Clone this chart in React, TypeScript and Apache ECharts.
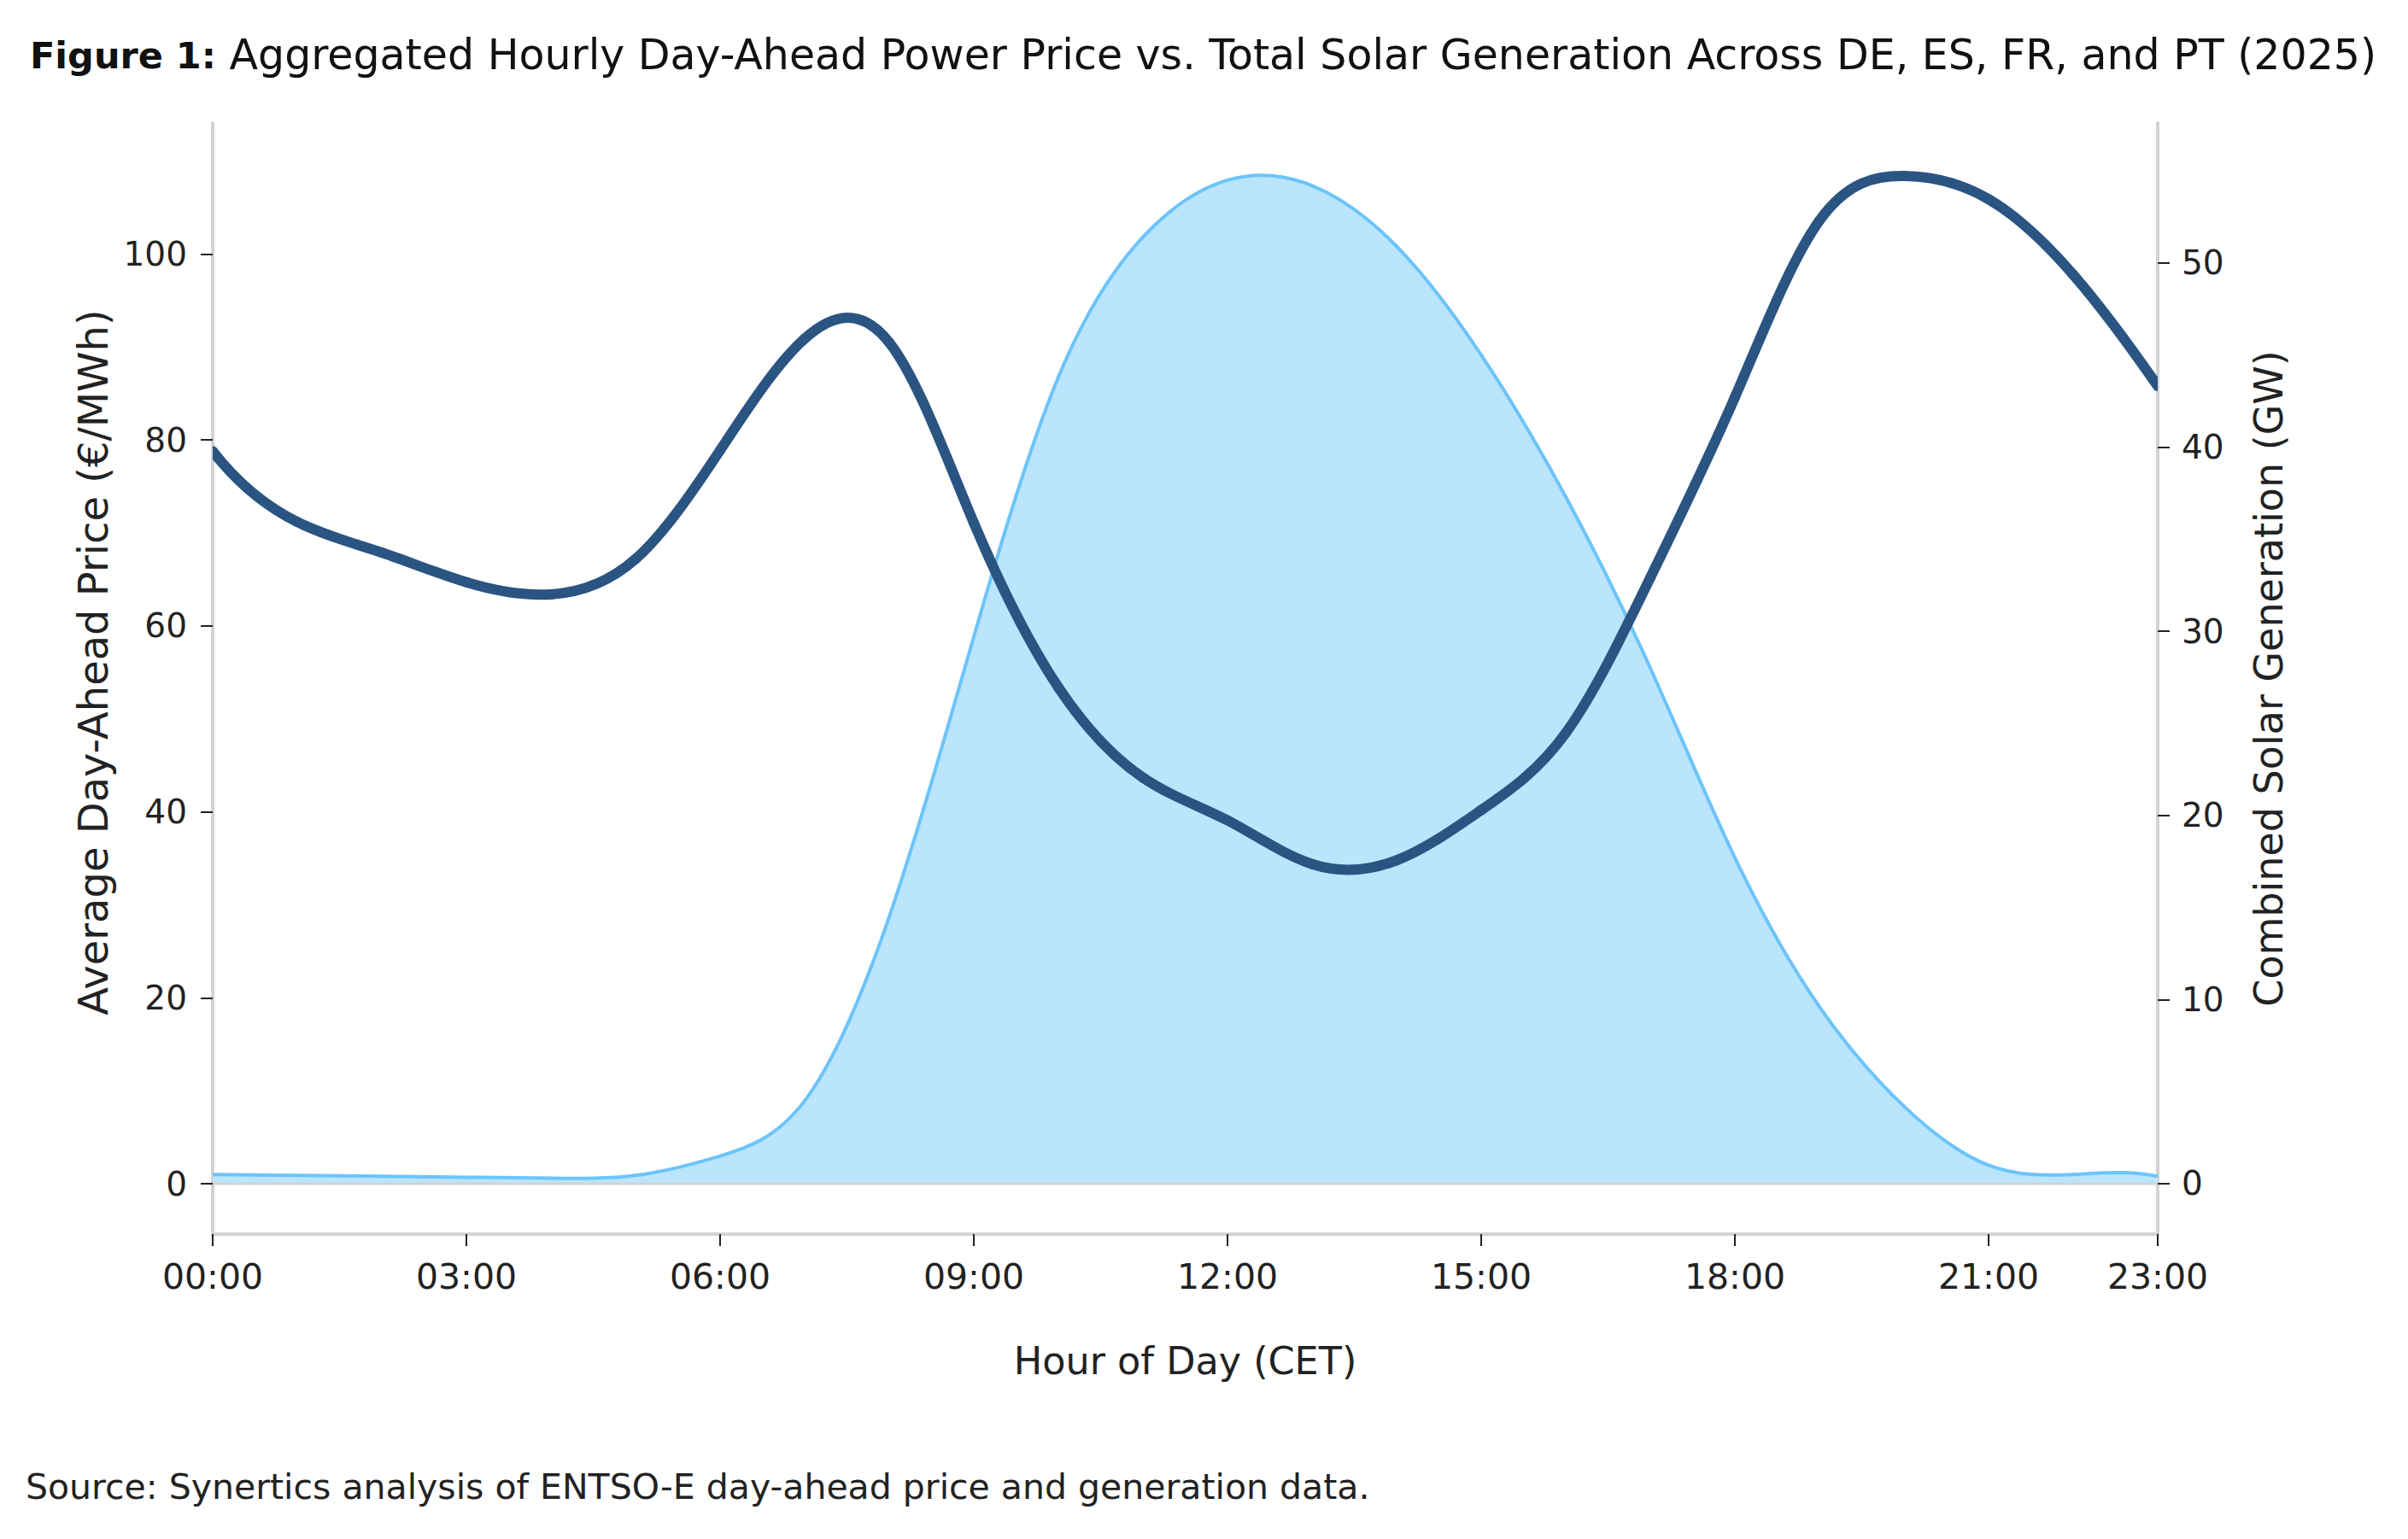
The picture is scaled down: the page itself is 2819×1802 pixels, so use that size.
import React, { useEffect, useRef } from "react";
import * as echarts from "echarts";

const hourLabels = [
  "00:00", "01:00", "02:00", "03:00", "04:00", "05:00", "06:00", "07:00",
  "08:00", "09:00", "10:00", "11:00", "12:00", "13:00", "14:00", "15:00",
  "16:00", "17:00", "18:00", "19:00", "20:00", "21:00", "22:00", "23:00",
];

// Average day-ahead price (€/MWh), hourly
const priceValues = [
  78.8, 71.2, 67.9, 64.7, 63.4, 67.2, 78.9, 90.9,
  90.5, 71.1, 53.4, 43.7, 39.1, 34.4, 34.8, 40.2,
  48.5, 65.2, 84.6, 103.6, 108.4, 105.9, 97.8, 85.8,
];

// Combined solar generation (GW), hourly
const solarValues = [
  0.5, 0.45, 0.4, 0.35, 0.3, 0.45, 1.5, 4.5,
  14.5, 29.7, 43.8, 51.4, 54.5, 54.2, 50.9, 45.0,
  37.3, 28.0, 17.7, 9.6, 4.2, 1.0, 0.5, 0.4,
];

const priceTicks = [0, 20, 40, 60, 80, 100];
const solarTicks = [0, 10, 20, 30, 40, 50];
const xLabelIndices = [0, 3, 6, 9, 12, 15, 18, 21, 23];

const FONT = "DejaVu Sans";
const TXT = "#222222";
const SPINE = "#d3d3d3";
const PRICE_COLOR = "#2a5482";
const SOLAR_LINE = "#6cc4fb";
const SOLAR_FILL = "#bae5fd";

// Cubic spline (not-a-knot) slopes dy/dx for points in pixel space
function splineSlopes(pts: number[][]): number[] {
  const n = pts.length;
  const h: number[] = [];
  for (let i = 0; i < n - 1; i++) h.push(pts[i + 1][0] - pts[i][0]);
  const A: number[][] = [];
  const r: number[] = [];
  for (let i = 0; i < n; i++) {
    const row = new Array(n).fill(0);
    if (i === 0) {
      row[0] = -h[1]; row[1] = h[0] + h[1]; row[2] = -h[0];
      r.push(0);
    } else if (i === n - 1) {
      row[n - 3] = -h[n - 2]; row[n - 2] = h[n - 2] + h[n - 3]; row[n - 1] = -h[n - 3];
      r.push(0);
    } else {
      row[i - 1] = h[i - 1];
      row[i] = 2 * (h[i - 1] + h[i]);
      row[i + 1] = h[i];
      r.push(6 * ((pts[i + 1][1] - pts[i][1]) / h[i] - (pts[i][1] - pts[i - 1][1]) / h[i - 1]));
    }
    A.push(row);
  }
  // Gaussian elimination with partial pivoting
  for (let c = 0; c < n; c++) {
    let p = c;
    for (let k = c + 1; k < n; k++) if (Math.abs(A[k][c]) > Math.abs(A[p][c])) p = k;
    if (p !== c) {
      const t = A[c]; A[c] = A[p]; A[p] = t;
      const tr = r[c]; r[c] = r[p]; r[p] = tr;
    }
    for (let k = c + 1; k < n; k++) {
      const f = A[k][c] / A[c][c];
      if (f === 0) continue;
      for (let j = c; j < n; j++) A[k][j] -= f * A[c][j];
      r[k] -= f * r[c];
    }
  }
  const M = new Array(n).fill(0);
  for (let i = n - 1; i >= 0; i--) {
    let s = r[i];
    for (let j = i + 1; j < n; j++) s -= A[i][j] * M[j];
    M[i] = s / A[i][i];
  }
  const m: number[] = [];
  for (let i = 0; i < n - 1; i++) {
    m.push((pts[i + 1][1] - pts[i][1]) / h[i] - (h[i] * (2 * M[i] + M[i + 1])) / 6);
  }
  m.push((pts[n - 1][1] - pts[n - 2][1]) / h[n - 2] + (h[n - 2] * (M[n - 2] + 2 * M[n - 1])) / 6);
  return m;
}

function segmentShape(pts: number[][], m: number[], i: number) {
  const [x0, y0] = pts[i];
  const [x1, y1] = pts[i + 1];
  const h = x1 - x0;
  return {
    x1: x0, y1: y0, x2: x1, y2: y1,
    cpx1: x0 + h / 3, cpy1: y0 + (m[i] * h) / 3,
    cpx2: x1 - h / 3, cpy2: y1 - (m[i + 1] * h) / 3,
  };
}

function sampleBezier(s: any, steps: number): number[][] {
  const out: number[][] = [];
  for (let k = 0; k <= steps; k++) {
    const t = k / steps;
    const u = 1 - t;
    const x = u * u * u * s.x1 + 3 * u * u * t * s.cpx1 + 3 * u * t * t * s.cpx2 + t * t * t * s.x2;
    const y = u * u * u * s.y1 + 3 * u * u * t * s.cpy1 + 3 * u * t * t * s.cpy2 + t * t * t * s.y2;
    out.push([x, y]);
  }
  return out;
}

function makeLineRenderer(values: number[], color: string, width: number) {
  return (params: any, api: any) => {
    const i = params.dataIndex;
    if (i >= values.length - 1) return null;
    const pts = values.map((v, j) => api.coord([j, v]));
    const m = splineSlopes(pts);
    return {
      type: "bezierCurve",
      shape: segmentShape(pts, m, i),
      style: { stroke: color, lineWidth: width, fill: null, lineCap: "round" },
      silent: true,
    };
  };
}

function makeAreaRenderer(values: number[]) {
  return (params: any, api: any) => {
    const i = params.dataIndex;
    if (i >= values.length - 1) return null;
    const pts = values.map((v, j) => api.coord([j, v]));
    const m = splineSlopes(pts);
    const curve = sampleBezier(segmentShape(pts, m, i), 24);
    const base0 = api.coord([i, 0]);
    const base1 = api.coord([i + 1, 0]);
    const poly = curve.concat([[base1[0], base1[1]], [base0[0], base0[1]]]);
    return {
      type: "group",
      silent: true,
      children: [
        {
          type: "polygon",
          shape: { points: poly },
          style: { fill: SOLAR_FILL, stroke: SOLAR_FILL, lineWidth: 1 },
        },
        {
          type: "line",
          shape: { x1: base0[0], y1: base0[1], x2: base1[0], y2: base1[1] },
          style: { stroke: SPINE, lineWidth: 3 },
        },
      ],
    };
  };
}

export default function App() {
  const ref = useRef<HTMLDivElement>(null);

  useEffect(() => {
    if (!ref.current) return;
    const chart = echarts.init(ref.current, undefined, { renderer: "svg" });
    const showIdx = (i: number) => xLabelIndices.indexOf(i) >= 0;
    const solarData = solarValues.map((v, i) => [i, v]);
    const priceData = priceValues.map((v, i) => [i, v]);
    chart.setOption({
      animation: false,
      backgroundColor: "#ffffff",
      textStyle: { fontFamily: FONT },
      title: {
        left: 30,
        top: 35,
        text: "{b|Figure 1:} Aggregated Hourly Day-Ahead Power Price vs. Total Solar Generation Across DE, ES, FR, and PT (2025)",
        textStyle: {
          fontFamily: FONT,
          fontSize: 49,
          fontWeight: "normal",
          color: "#111111",
          rich: {
            b: { fontFamily: FONT, fontSize: 43, fontWeight: "bold", color: "#111111" },
          },
        },
      },
      graphic: [
        {
          type: "text",
          left: 30,
          top: 1720,
          style: {
            text: "Source: Synertics analysis of ENTSO-E day-ahead price and generation data.",
            font: `41px "${FONT}"`,
            fill: TXT,
          },
        },
      ],
      grid: {
        left: 249,
        right: 293,
        top: 144,
        bottom: 357,
        containLabel: false,
        outerBoundsMode: "none",
      },
      xAxis: {
        type: "category",
        data: hourLabels,
        boundaryGap: false,
        name: "Hour of Day (CET)",
        nameLocation: "middle",
        nameGap: 126,
        nameTextStyle: { fontFamily: FONT, fontSize: 44.5, color: TXT },
        axisLine: { onZero: false, lineStyle: { color: SPINE, width: 4 } },
        axisTick: {
          show: true,
          interval: (i: number) => showIdx(i),
          length: 14,
          lineStyle: { color: TXT, width: 2 },
        },
        axisLabel: {
          interval: (i: number) => showIdx(i),
          margin: 29,
          fontFamily: FONT,
          fontSize: 41,
          color: TXT,
        },
        splitLine: { show: false },
      },
      yAxis: [
        {
          type: "value",
          min: -5.4,
          max: 114.1,
          position: "left",
          name: "Average Day-Ahead Price (€/MWh)",
          nameLocation: "middle",
          nameRotate: 90,
          nameGap: 116,
          nameTextStyle: { fontFamily: FONT, fontSize: 48, color: TXT, padding: [0, 0, 0, 38] },
          axisLine: { show: true, lineStyle: { color: SPINE, width: 4 } },
          axisTick: {
            show: true,
            length: 14,
            customValues: priceTicks,
            lineStyle: { color: TXT, width: 2 },
          },
          axisLabel: {
            customValues: priceTicks,
            margin: 30,
            fontFamily: FONT,
            fontSize: 39,
            color: TXT,
          },
          splitLine: { show: false },
        },
        {
          type: "value",
          min: -2.74,
          max: 57.6,
          position: "right",
          name: "Combined Solar Generation (GW)",
          nameLocation: "middle",
          nameRotate: 90,
          nameGap: 107,
          nameTextStyle: { fontFamily: FONT, fontSize: 46, color: TXT },
          axisLine: { show: true, lineStyle: { color: SPINE, width: 4 } },
          axisTick: {
            show: true,
            length: 14,
            customValues: solarTicks,
            lineStyle: { color: TXT, width: 2 },
          },
          axisLabel: {
            customValues: solarTicks,
            margin: 28,
            fontFamily: FONT,
            fontSize: 39,
            color: TXT,
          },
          splitLine: { show: false },
        },
      ],
      series: [
        {
          name: "Solar area",
          type: "custom",
          coordinateSystem: "cartesian2d",
          yAxisIndex: 1,
          data: solarData,
          encode: { x: 0, y: 1 },
          renderItem: makeAreaRenderer(solarValues),
          clip: true,
          z: 1,
        },
        {
          name: "Combined Solar Generation",
          type: "custom",
          coordinateSystem: "cartesian2d",
          yAxisIndex: 1,
          data: solarData,
          encode: { x: 0, y: 1 },
          renderItem: makeLineRenderer(solarValues, SOLAR_LINE, 4),
          clip: true,
          z: 2,
        },
        {
          name: "Average Day-Ahead Price",
          type: "custom",
          coordinateSystem: "cartesian2d",
          yAxisIndex: 0,
          data: priceData,
          encode: { x: 0, y: 1 },
          renderItem: makeLineRenderer(priceValues, PRICE_COLOR, 12),
          clip: true,
          z: 3,
        },
      ],
    });
    return () => chart.dispose();
  }, []);

  return (
    <div
      ref={ref}
      style={{ position: "fixed", left: 0, top: 0, width: "100vw", height: "100vh" }}
    />
  );
}
